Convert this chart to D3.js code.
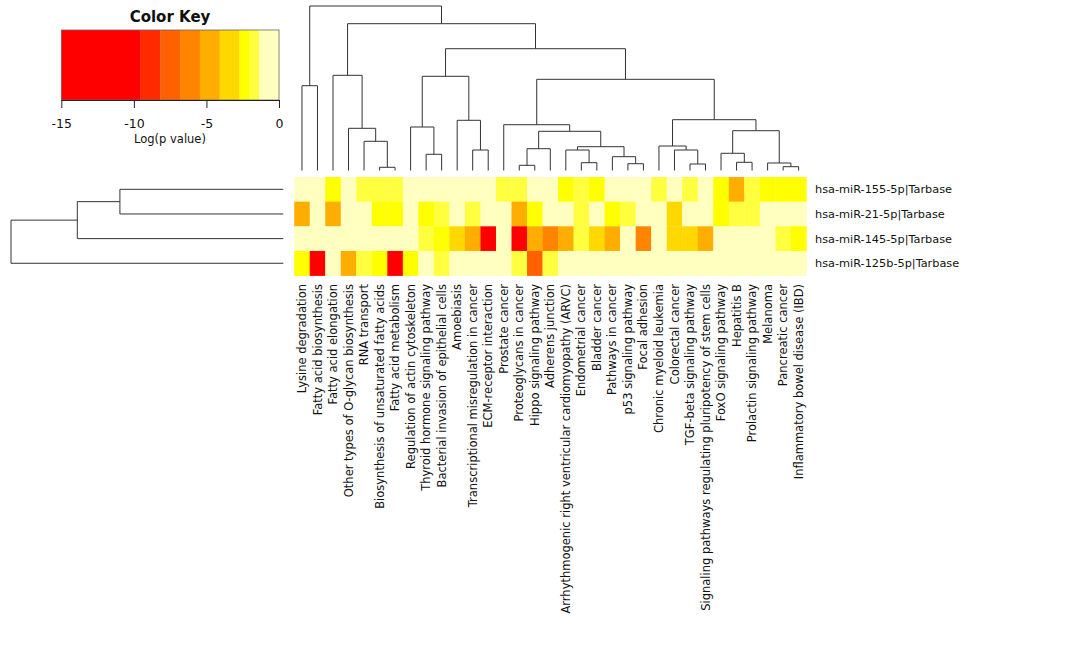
<!DOCTYPE html>
<html><head><meta charset="utf-8">
<script src="https://cdn.jsdelivr.net/npm/d3@7"></script>
<style>body{margin:0;background:#fff;} svg{display:block;font-family:"DejaVu Sans",sans-serif;}</style>
</head><body><svg id="c" width="1080" height="651"></svg>
<script>
// ---------- data ----------
const pathways = [
  "Lysine degradation","Fatty acid biosynthesis","Fatty acid elongation",
  "Other types of O-glycan biosynthesis","RNA transport",
  "Biosynthesis of unsaturated fatty acids","Fatty acid metabolism",
  "Regulation of actin cytoskeleton","Thyroid hormone signaling pathway",
  "Bacterial invasion of epithelial cells","Amoebiasis",
  "Transcriptional misregulation in cancer","ECM-receptor interaction",
  "Prostate cancer","Proteoglycans in cancer","Hippo signaling pathway",
  "Adherens junction","Arrhythmogenic right ventricular cardiomyopathy (ARVC)",
  "Endometrial cancer","Bladder cancer","Pathways in cancer",
  "p53 signaling pathway","Focal adhesion","Chronic myeloid leukemia",
  "Colorectal cancer","TGF-beta signaling pathway",
  "Signaling pathways regulating pluripotency of stem cells",
  "FoxO signaling pathway","Hepatitis B","Prolactin signaling pathway",
  "Melanoma","Pancreatic cancer","Inflammatory bowel disease (IBD)"
];
const mirnas = ["hsa-miR-155-5p|Tarbase","hsa-miR-21-5p|Tarbase",
                "hsa-miR-145-5p|Tarbase","hsa-miR-125b-5p|Tarbase"];

// log(p value) per pathway (same order as pathways)
const miR155 = [-0.5,-0.4,-2.4,-0.6,-1.8,-1.7,-1.8,-0.5,-0.4,-0.6,-0.5,-0.4,-0.5,-1.7,-1.8,-0.6,
                -0.5,-2.4,-1.7,-2.3,-0.5,-0.6,-0.4,-1.8,-0.5,-1.7,-0.6,-2.4,-4.8,-1.7,-2.4,-2.3,-2.4];
const miR21  = [-4.7,-0.5,-5.0,-0.4,-0.6,-2.4,-2.4,-0.5,-2.3,-1.7,-0.5,-1.8,-0.4,-0.6,-4.8,-2.4,
                -0.5,-0.4,-1.7,-0.6,-2.4,-1.8,-0.5,-0.4,-3.4,-0.5,-0.6,-2.4,-1.7,-1.8,-0.5,-0.4,-0.5];
const miR145 = [-0.4,-0.5,-0.6,-0.5,-0.4,-0.5,-0.6,-0.5,-1.7,-2.4,-3.5,-4.8,-12.8,-0.5,-13.5,-4.9,
                -6.2,-5.0,-1.8,-3.4,-5.1,-0.5,-6.3,-0.4,-3.3,-3.4,-4.7,-0.5,-0.6,-0.4,-0.5,-1.8,-2.4];
const miR125b= [-2.4,-14.1,-0.5,-4.8,-1.8,-2.4,-12.9,-2.3,-0.5,-1.7,-0.4,-0.5,-0.6,-0.5,-1.8,-7.6,
                -1.7,-0.5,-0.4,-0.6,-0.5,-0.4,-0.5,-0.6,-0.5,-0.4,-0.5,-0.6,-0.4,-0.5,-0.6,-0.5,-0.4];
const matrix = [miR155, miR21, miR145, miR125b];

const keyTicks = [-15, -10, -5, 0];
const keyDomain = [-15, 0];
const breaks  = [-9.545, -8.182, -6.818, -5.455, -4.091, -2.727, -2.045, -1.364];
const palette = ["#FF0000","#FF2A00","#FF6000","#FF8400","#FFAE00","#FFD800","#FFFF00","#FFFF40","#FFFFBF"];

// dendrograms: [height, left, right]; leaves are indices
const colTree = [10,
  [5.155, 0, 1],
  [8.924,
    [5.787, 2, [2.565, 3, [1.775, 4, [0.195, 5, 6]]]],
    [7.404,
      [5.726,
        [2.644, 7, [0.985, 8, 9]],
        [3.052, 10, [1.246, 11, 12]]],
      [5.544,
        [2.784, 13, [2.383,
          [1.325, [0.316, 14, 15], 16],
          [1.447, [1.246, 17, [0.474, 18, 19]], [0.839, 20, [0.413, 21, 22]]]]],
        [3.088,
          [1.489, 23, [1.246, 24, [0.395, 25, 26]]],
          [2.419, [1.046, 27, [0.498, 28, 29]], [0.456, 30, [0.231, 31, 32]]]]]]]];
const rowTree = [10, [7.565, [6.0, 0, 1], 2], 3];

// ---------- drawing ----------
const svg = d3.select("#c");
const xCol = d3.scaleBand().domain(d3.range(pathways.length)).range([294.2, 806.4]);
const yRow = d3.scaleBand().domain(d3.range(mirnas.length)).range([177, 275.6]);
const color = d3.scaleThreshold().domain(breaks).range(palette);

// heatmap cells
const cells = [];
matrix.forEach((row, r) => row.forEach((v, c) => cells.push({r, c, v})));
svg.append("g").selectAll("rect").data(cells).join("rect")
  .attr("x", d => xCol(d.c)).attr("y", d => yRow(d.r))
  .attr("width", xCol.bandwidth() + 0.3).attr("height", yRow.bandwidth() + 0.3)
  .attr("fill", d => color(d.v));

// row labels
svg.append("g").selectAll("text").data(mirnas).join("text")
  .attr("x", 815).attr("y", (d, i) => yRow(i) + yRow.bandwidth() / 2)
  .attr("dy", "0.35em").attr("font-size", 11.3).attr("fill", "#111").text(d => d);

// column labels
svg.append("g").selectAll("text").data(pathways).join("text")
  .attr("transform", (d, i) => `translate(${xCol(i) + xCol.bandwidth() / 2},284) rotate(-90)`)
  .attr("text-anchor", "end").attr("dy", "0.35em")
  .attr("font-size", 11.5).attr("fill", "#111").text(d => d);

// column dendrogram
const hCol = d3.scaleLinear().domain([0, 10]).range([170.5, 6]);
const colPaths = [];
function layCol(n) {
  if (typeof n === "number") return {x: xCol(n) + xCol.bandwidth() / 2, h: 0};
  const a = layCol(n[1]), b = layCol(n[2]);
  colPaths.push(`M${a.x},${hCol(a.h)}V${hCol(n[0])}H${b.x}V${hCol(b.h)}`);
  return {x: (a.x + b.x) / 2, h: n[0]};
}
layCol(colTree);
svg.append("g").selectAll("path").data(colPaths).join("path")
  .attr("d", d => d).attr("fill", "none").attr("stroke", "#333").attr("stroke-width", 1);

// row dendrogram
const hRow = d3.scaleLinear().domain([0, 10]).range([283.3, 11]);
const rowPaths = [];
function layRow(n) {
  if (typeof n === "number") return {y: yRow(n) + yRow.bandwidth() / 2, h: 0};
  const a = layRow(n[1]), b = layRow(n[2]);
  rowPaths.push(`M${hRow(a.h)},${a.y}H${hRow(n[0])}V${b.y}H${hRow(b.h)}`);
  return {y: (a.y + b.y) / 2, h: n[0]};
}
layRow(rowTree);
svg.append("g").selectAll("path").data(rowPaths).join("path")
  .attr("d", d => d).attr("fill", "none").attr("stroke", "#333").attr("stroke-width", 1);

// color key
const xKey = d3.scaleLinear().domain(keyDomain).range([61.3, 279]);
const edges = [keyDomain[0], ...breaks, keyDomain[1]];
const key = svg.append("g");
key.selectAll("rect").data(palette).join("rect")
  .attr("x", (d, i) => xKey(edges[i])).attr("y", 30)
  .attr("width", (d, i) => xKey(edges[i + 1]) - xKey(edges[i]) + 0.3)
  .attr("height", 70).attr("fill", d => d);
key.append("rect").attr("x", xKey(-15)).attr("y", 30)
  .attr("width", xKey(0) - xKey(-15)).attr("height", 70)
  .attr("fill", "none").attr("stroke", "#666").attr("stroke-width", 0.8);
const axis = key.append("g").attr("transform", "translate(0,100)")
  .call(d3.axisBottom(xKey).tickValues(keyTicks).tickFormat(d => String(d))
        .tickSize(8).tickSizeOuter(0).tickPadding(11));
axis.selectAll("text").attr("font-size", 12.5).attr("font-family", "DejaVu Sans").attr("fill", "#111");
axis.selectAll("line,path").attr("stroke", "#222");
key.append("text").attr("x", 170).attr("y", 21.5).attr("text-anchor", "middle")
  .attr("font-size", 15).attr("font-weight", "bold").attr("fill", "#111").text("Color Key");
key.append("text").attr("x", 170).attr("y", 142.5).attr("text-anchor", "middle")
  .attr("font-size", 11.5).attr("fill", "#111").text("Log(p value)");
</script></body></html>
